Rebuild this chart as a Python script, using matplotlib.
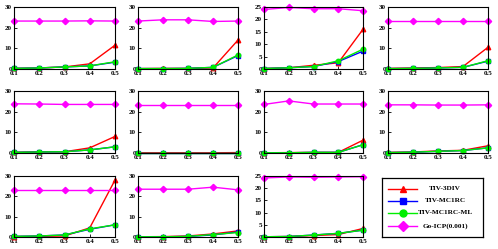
import matplotlib
matplotlib.use("Agg")
import matplotlib.pyplot as plt

x = [0.1, 0.2, 0.3, 0.4, 0.5]
xticklabels = ["0.1", "0.2", "0.3", "0.4", "0.5"]
series_names = ["TIV-3DIV", "TIV-MC1RC", "TIV-MC1RC-ML", "Go-ICP(0.001)"]

red = [
    [0.3, 0.5, 1.0, 2.5, 11.5],
    [0.2, 0.3, 0.3, 0.5, 14.0],
    [0.2, 0.5, 1.5, 2.5, 16.0],
    [0.3, 0.5, 0.7, 1.2, 10.5],
    [0.3, 0.6, 0.6, 2.5, 8.0],
    [0.1, 0.1, 0.1, 0.1, 0.2],
    [0.1, 0.2, 0.3, 0.3, 6.2],
    [0.3, 0.5, 1.0, 1.3, 3.5],
    [0.2, 0.3, 0.5, 4.5, 28.0],
    [0.1, 0.2, 0.5, 1.5, 3.0],
    [0.1, 0.2, 0.6, 1.0, 3.5],
]
blue = [
    [0.3, 0.5, 1.0, 1.5, 3.3],
    [0.2, 0.2, 0.3, 0.8, 6.5],
    [0.2, 0.5, 1.0, 3.0, 7.2],
    [0.2, 0.3, 0.5, 0.8, 3.8],
    [0.3, 0.5, 0.6, 1.5, 3.0],
    [0.1, 0.1, 0.1, 0.1, 0.1],
    [0.1, 0.1, 0.3, 0.3, 4.0],
    [0.2, 0.4, 0.8, 1.2, 2.5],
    [0.3, 0.5, 1.0, 3.8, 6.0],
    [0.1, 0.1, 0.3, 1.0, 2.5],
    [0.1, 0.2, 0.8, 1.5, 2.8],
]
green = [
    [0.3, 0.5, 1.0, 1.5, 3.5],
    [0.2, 0.2, 0.3, 0.8, 6.8],
    [0.2, 0.5, 1.0, 3.3, 8.0],
    [0.2, 0.3, 0.5, 0.8, 4.0],
    [0.3, 0.5, 0.6, 1.5, 3.0],
    [0.1, 0.1, 0.1, 0.1, 0.1],
    [0.1, 0.1, 0.3, 0.3, 4.0],
    [0.2, 0.4, 0.8, 1.2, 2.5],
    [0.3, 0.5, 1.0, 4.0, 6.0],
    [0.1, 0.1, 0.3, 1.2, 2.2],
    [0.1, 0.2, 0.8, 1.5, 2.8],
]
magenta = [
    [23.2, 23.2, 23.2, 23.3, 23.2],
    [23.2, 23.8, 23.8, 23.0, 23.2],
    [24.0, 24.8, 24.3, 24.3, 23.5],
    [23.3, 23.3, 23.3, 23.3, 23.3],
    [23.8, 23.7, 23.5, 23.5, 23.5],
    [23.0, 23.0, 23.0, 23.0, 23.0],
    [23.5, 25.2, 23.7, 23.7, 23.7],
    [23.3, 23.3, 23.2, 23.2, 23.3],
    [23.2, 23.2, 23.2, 23.2, 23.2],
    [23.5, 23.5, 23.5, 24.5, 23.2],
    [24.2, 24.6, 24.5, 24.6, 24.7],
]
ymax = [30, 30, 25, 30, 30, 30, 30, 30, 30, 30, 25]

plt.rcParams['font.family'] = ['Liberation Serif', 'DejaVu Serif']
fig = plt.figure(figsize=(4.98, 2.49), dpi=100)
W, H = 498.0, 249.0
lefts = [14, 138, 264, 388]
widths = [101, 100, 99, 100]
tops = [7, 91, 176]
bottoms = [69, 153, 237]

styles = [
    ("red", "^"), ("blue", "s"), ("#00ee00", "o"), ("magenta", "D")
]

for i in range(11):
    r, c = divmod(i, 4)
    ax = fig.add_axes([lefts[c] / W, 1 - bottoms[r] / H, widths[c] / W, (bottoms[r] - tops[r]) / H])
    for data, (col, mk), name in zip([red[i], blue[i], green[i], magenta[i]], styles, series_names):
        ax.plot(x, data, color=col, marker=mk, markersize=3.2, linewidth=1.0, clip_on=False, label=name)
    ax.set_xlim(0.1, 0.5)
    ax.set_ylim(0, ymax[i])
    ax.set_xticks(x)
    ax.set_xticklabels(xticklabels)
    if ymax[i] == 25:
        ax.set_yticks([0, 5, 10, 15, 20, 25])
    else:
        ax.set_yticks([0, 10, 20, 30])
    ax.tick_params(direction='in', length=2, width=0.6, labelsize=5, pad=1.5)
    for lbl in ax.get_xticklabels() + ax.get_yticklabels():
        lbl.set_fontweight('bold')
    for s in ax.spines.values():
        s.set_linewidth(0.8)

# custom legend box (centered labels, as in the reference)
lax = fig.add_axes([382 / W, 1 - 237 / H, 101 / W, 59 / H])
lax.set_xlim(0, 101)
lax.set_ylim(59, 0)
lax.set_xticks([])
lax.set_yticks([])
for s in lax.spines.values():
    s.set_linewidth(0.9)
row_y = [11, 23, 35, 48]
for (col, mk), name, yy in zip(styles, series_names, row_y):
    lax.plot([6, 35], [yy, yy], color=col, linewidth=1.0)
    lax.plot([20.5], [yy], color=col, marker=mk, markersize=5)
    lax.text(63, yy, name, ha='center', va='center', fontsize=5.2, fontweight='bold')

fig.savefig("out.png", dpi=100)
